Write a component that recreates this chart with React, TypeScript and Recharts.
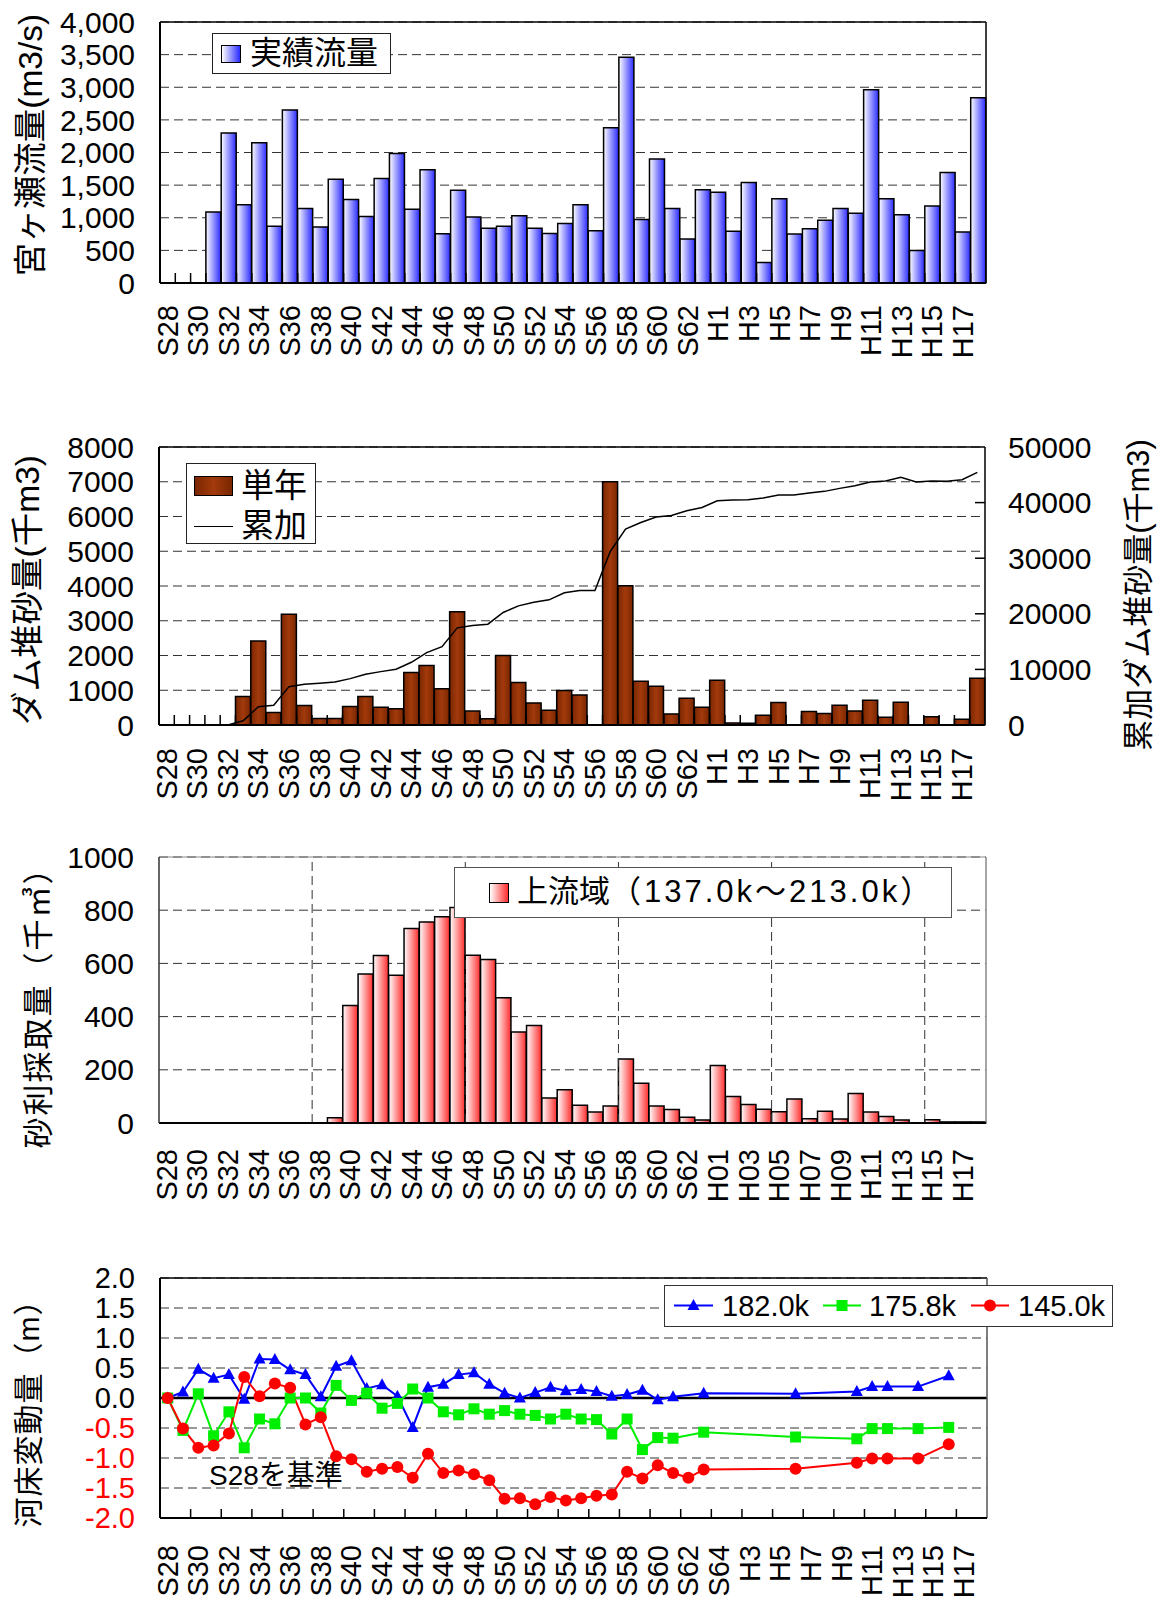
import React from 'react';
import {
  ComposedChart, BarChart, LineChart, Bar, Line, XAxis, YAxis, CartesianGrid, ReferenceLine, Legend,
} from 'recharts';

const FONT = "'Liberation Sans', Arial, 'Noto Sans CJK JP', sans-serif";

// 年度 S28 (1953) – H18 (2006)
const years = [
  'S28', 'S29', 'S30', 'S31', 'S32', 'S33', 'S34', 'S35', 'S36', 'S37', 'S38', 'S39',
  'S40', 'S41', 'S42', 'S43', 'S44', 'S45', 'S46', 'S47', 'S48', 'S49', 'S50', 'S51',
  'S52', 'S53', 'S54', 'S55', 'S56', 'S57', 'S58', 'S59', 'S60', 'S61', 'S62', 'S63',
  'H1', 'H2', 'H3', 'H4', 'H5', 'H6', 'H7', 'H8', 'H9', 'H10', 'H11', 'H12',
  'H13', 'H14', 'H15', 'H16', 'H17', 'H18',
];

// tick labels (one per two years)
const yearLabels = [
  'S28', 'S30', 'S32', 'S34', 'S36', 'S38', 'S40', 'S42', 'S44', 'S46', 'S48', 'S50',
  'S52', 'S54', 'S56', 'S58', 'S60', 'S62', 'H1', 'H3', 'H5', 'H7', 'H9', 'H11', 'H13', 'H15', 'H17',
];
const gravelLabels = [
  'S28', 'S30', 'S32', 'S34', 'S36', 'S38', 'S40', 'S42', 'S44', 'S46', 'S48', 'S50',
  'S52', 'S54', 'S56', 'S58', 'S60', 'S62', 'H01', 'H03', 'H05', 'H07', 'H09', 'H11', 'H13', 'H15', 'H17',
];
const bedLabels = [
  'S28', 'S30', 'S32', 'S34', 'S36', 'S38', 'S40', 'S42', 'S44', 'S46', 'S48', 'S50',
  'S52', 'S54', 'S56', 'S58', 'S60', 'S62', 'S64', 'H3', 'H5', 'H7', 'H9', 'H11', 'H13', 'H15', 'H17',
];

// 宮ヶ瀬 実績流量 (m3/s)
const flow = [
  null, null, null, 1090, 2300, 1200, 2150, 870, 2650, 1140, 860, 1590,
  1280, 1020, 1600, 1985, 1130, 1735, 755, 1420, 1010, 840, 870, 1030,
  840, 760, 910, 1200, 800, 2380, 3460, 975, 1900, 1140, 675, 1430,
  1390, 795, 1540, 315, 1290, 750, 830, 960, 1140, 1070, 2960, 1290,
  1045, 500, 1180, 1695, 780, 2840,
];

// ダム堆砂量 単年 (千m3)
const sandYear = [
  null, null, null, null, null, 820, 2420, 360, 3190, 560, 190, 190,
  530, 820, 510, 470, 1510, 1710, 1040, 3260, 400, 180, 2000, 1220,
  635, 425, 990, 865, null, 7000, 4010, 1260, 1115, 320, 770, 510,
  1290, 60, 50, 280, 645, null, 385, 330, 570, 405, 710, 220,
  655, null, 240, null, 165, 1345,
];

// ダム堆砂量 累加 (千m3)
const sandTotal = [
  0, 0, 0, 0, 0, 750, 3300, 3540, 6900, 7320, 7500, 7740,
  8340, 9120, 9600, 10020, 11280, 13030, 14100, 17470, 17890, 18130, 20230, 21430,
  22090, 22510, 23770, 24190, 24190, 31210, 35230, 36430, 37400, 37700, 38530, 39130,
  40340, 40460, 40520, 40820, 41360, 41360, 41720, 42020, 42560, 43040, 43700, 43880,
  44540, 43700, 43880, 43820, 44120, 45440,
];

// 砂利採取量 上流域 (千m3)
const gravel = [
  null, null, null, null, null, null, null, null, null, null, null, 20,
  442, 560, 630, 555, 731, 756, 775, 810, 631, 615, 471, 342,
  367, 94, 125, 67, 41, 64, 241, 149, 64, 51, 22, 11,
  216, 100, 70, 52, 42, 90, 16, 44, 15, 111, 41, 24,
  11, null, 12, 4, 4, 4,
];

// 河床変動量 (m), S28 基準
const bed182 = [
  0, 0.10, 0.48, 0.33, 0.39, -0.02, 0.65, 0.64, 0.47, 0.39, 0.02, 0.53,
  0.62, 0.16, 0.22, 0.03, -0.49, 0.18, 0.23, 0.39, 0.42, 0.23, 0.08, 0.00,
  0.09, 0.18, 0.12, 0.14, 0.11, 0.03, 0.06, 0.13, -0.03, 0.02, null, 0.08,
  null, null, null, null, null, 0.07, null, null, null, 0.11, 0.19, 0.19,
  null, 0.19, null, 0.37, null, null,
];
const bed1758 = [
  0, -0.54, 0.07, -0.63, -0.23, -0.83, -0.35, -0.43, 0.00, 0.00, -0.25, 0.21,
  -0.04, 0.08, -0.17, -0.09, 0.15, 0.00, -0.23, -0.28, -0.18, -0.27, -0.21, -0.27,
  -0.29, -0.35, -0.27, -0.35, -0.36, -0.60, -0.35, -0.86, -0.66, -0.67, null, -0.57,
  null, null, null, null, null, -0.65, null, null, null, -0.68, -0.51, -0.51,
  null, -0.51, null, -0.49, null, null,
];
const bed145 = [
  0, -0.51, -0.83, -0.79, -0.59, 0.35, 0.03, 0.24, 0.17, -0.44, -0.32, -0.97,
  -1.02, -1.23, -1.18, -1.15, -1.33, -0.93, -1.25, -1.21, -1.27, -1.37, -1.68, -1.67,
  -1.77, -1.65, -1.71, -1.67, -1.63, -1.61, -1.23, -1.34, -1.12, -1.25, -1.33, -1.19,
  null, null, null, null, null, -1.18, null, null, null, -1.08, -1.01, -1.01,
  null, -1.01, null, -0.77, null, null,
];

const flowTicks = [0, 500, 1000, 1500, 2000, 2500, 3000, 3500, 4000];
const sandTicks = [0, 1000, 2000, 3000, 4000, 5000, 6000, 7000, 8000];
const sandTotalTicks = [0, 10000, 20000, 30000, 40000, 50000];
const gravelTicks = [0, 200, 400, 600, 800, 1000];
const bedTicks = [-2, -1.5, -1, -0.5, 0, 0.5, 1, 1.5, 2];

const bedSeries = [
  { key: 'b182', name: '182.0k', color: '#0000ff', shape: 'triangle' },
  { key: 'b1758', name: '175.8k', color: '#00ee00', shape: 'square' },
  { key: 'b145', name: '145.0k', color: '#ff0000', shape: 'circle' },
];

const flowData = years.map((year, i) => ({ year, flow: flow[i] }));
const sandData = years.map((year, i) => ({ year, single: sandYear[i], total: sandTotal[i] }));
const gravelData = years.map((year, i) => ({ year, gravel: gravel[i] }));
const bedData = years.map((year, i) => ({ year, b182: bed182[i], b1758: bed1758[i], b145: bed145[i] }));

const W = 1158;
const GRID = '#333';
const DASH = '9 5';

function makeYearTick(labels: string[], gap: number, markEvery: number, markLen: number, band: number) {
  return function YearTick(props: any) {
    const { x, y, index } = props;
    const label = index % 2 === 0 ? labels[index / 2] : '';
    const ly = y + gap;
    return (
      <g>
        {markLen > 0 && index % markEvery === 0 ? (
          <line x1={x - band / 2} x2={x - band / 2} y1={y} y2={y - markLen} stroke="#000" strokeWidth={1.5} />
        ) : null}
        {label ? (
          <text x={x} y={ly} transform={`rotate(-90 ${x} ${ly})`} textAnchor="end"
            dominantBaseline="central" fontSize={29} fill="#000">{label}</text>
        ) : null}
      </g>
    );
  };
}

function titleAt(text: string, cx: number, cy: number, size: number, spacing = 0) {
  return function Title() {
    return (
      <text x={cx} y={cy} transform={`rotate(-90 ${cx} ${cy})`} textAnchor="middle"
        dominantBaseline="central" fontSize={size} letterSpacing={spacing} fill="#000">{text}</text>
    );
  };
}

function Marker({ shape, cx, cy, color }: { shape: string; cx: number; cy: number; color: string }) {
  if (shape === 'triangle') {
    return <polygon points={`${cx},${cy - 6.5} ${cx - 6},${cy + 4.5} ${cx + 6},${cy + 4.5}`} fill={color} />;
  }
  if (shape === 'square') {
    return <rect x={cx - 5.5} y={cy - 5.5} width={11} height={11} fill={color} />;
  }
  return <circle cx={cx} cy={cy} r={6} fill={color} />;
}

function makeDot(shape: string, color: string) {
  return function Dot(props: any) {
    const { cx, cy, value, index } = props;
    if (value == null || cx == null || cy == null) return <g key={`d${index}`} />;
    return <g key={`d${index}`}><Marker shape={shape} cx={cx} cy={cy} color={color} /></g>;
  };
}

const boxStyle: React.CSSProperties = {
  position: 'relative', background: '#fff', boxSizing: 'border-box', border: '1.5px solid #222',
};

function FlowChart() {
  const band = 826 / years.length;
  return (
    <BarChart width={W} height={380} data={flowData} barCategoryGap={0} barGap={0}
      margin={{ top: 22, right: 172, bottom: 0, left: 0 }}>
      <defs>
        <linearGradient id="blueBar" x1="0" y1="0" x2="1" y2="0">
          <stop offset="0%" stopColor="#ffffff" />
          <stop offset="100%" stopColor="#2b2bff" />
        </linearGradient>
      </defs>
      <CartesianGrid vertical={false} stroke={GRID} strokeDasharray={DASH} />
      <XAxis dataKey="year" interval={0} height={97} tickLine={false} tickSize={0} tickMargin={0}
        axisLine={{ stroke: '#000', strokeWidth: 2 }} tick={makeYearTick(yearLabels, 22, 1, 10, band)} />
      <YAxis width={160} domain={[0, 4000]} ticks={flowTicks} interval={0} tickLine={false}
        tickSize={6} tickMargin={19} axisLine={{ stroke: '#000', strokeWidth: 2 }}
        tick={{ fontSize: 30, fill: '#000' }} tickFormatter={(v: number) => v.toLocaleString('en-US')}
        label={titleAt('宮ヶ瀬流量(m3/s)', 30, 145, 33.5)} />
      <ReferenceLine y={4000} stroke="#000" strokeWidth={1.5} />
      <ReferenceLine x="H18" position="end" stroke="#000" strokeWidth={1.5} />
      <Bar dataKey="flow" fill="url(#blueBar)" stroke="#000" strokeWidth={1.5} isAnimationActive={false} />
      <Legend layout="horizontal" verticalAlign="middle" align="center"
        wrapperStyle={{ left: 212, top: 33, width: 179, height: 41 }}
        content={() => (
          <div style={{ ...boxStyle, width: 179, height: 41 }}>
            <div style={{ position: 'absolute', left: 8, top: 11, width: 20, height: 18, boxSizing: 'border-box',
              border: '1.5px solid #000', background: 'linear-gradient(to right, #ffffff, #2b2bff)' }} />
            <span style={{ position: 'absolute', left: 37, top: 0, lineHeight: '38px', fontSize: 32 }}>実績流量</span>
          </div>
        )} />
    </BarChart>
  );
}

function SandChart() {
  const band = 826 / years.length;
  return (
    <ComposedChart width={W} height={440} data={sandData} barCategoryGap={0} barGap={0}
      margin={{ top: 67, right: 0, bottom: 0, left: 0 }}>
      <defs>
        <linearGradient id="brownBar" x1="0" y1="0" x2="1" y2="0">
          <stop offset="0%" stopColor="#7a2600" />
          <stop offset="50%" stopColor="#a23a0c" />
          <stop offset="100%" stopColor="#7a2600" />
        </linearGradient>
      </defs>
      <CartesianGrid vertical={false} stroke={GRID} strokeDasharray={DASH} />
      <XAxis dataKey="year" interval={0} height={95} tickLine={false} tickSize={0} tickMargin={0}
        axisLine={{ stroke: '#000', strokeWidth: 2 }} tick={makeYearTick(yearLabels, 23, 1, 10, band)} />
      <YAxis width={159} domain={[0, 8000]} ticks={sandTicks} interval={0} tickLine={false}
        tickSize={6} tickMargin={19} axisLine={{ stroke: '#000', strokeWidth: 2 }}
        tick={{ fontSize: 30, fill: '#000' }}
        label={titleAt('ダム堆砂量(千m3)', 27, 210, 33.5)} />
      <YAxis yAxisId="r" orientation="right" width={173} domain={[0, 50000]} ticks={sandTotalTicks}
        interval={0} tickLine={false} tickSize={6} tickMargin={17}
        axisLine={{ stroke: '#000', strokeWidth: 1.5 }}
        tick={(p: any) => (
          <g>
            {p.payload.value > 0 && p.payload.value < 50000 ? (
              <line x1={p.x - 23} x2={p.x - 33} y1={p.y} y2={p.y} stroke="#000" strokeWidth={1.5} />
            ) : null}
            <text x={p.x} y={p.y} textAnchor="start" dominantBaseline="central" fontSize={30} fill="#000">
              {p.payload.value}
            </text>
          </g>
        )}
        label={titleAt('累加ダム堆砂量(千m3)', 1138, 215, 31)} />
      <ReferenceLine y={8000} stroke="#000" strokeWidth={1.5} />
      <Bar dataKey="single" fill="url(#brownBar)" stroke="#000" strokeWidth={1.5} isAnimationActive={false} />
      <Line yAxisId="r" dataKey="total" type="linear" stroke="#000" strokeWidth={1.5} dot={false}
        isAnimationActive={false} />
      <Legend layout="horizontal" verticalAlign="middle" align="center"
        wrapperStyle={{ left: 186, top: 83, width: 130, height: 81 }}
        content={() => (
          <div style={{ ...boxStyle, width: 130, height: 81 }}>
            <div style={{ position: 'absolute', left: 7, top: 12, width: 39, height: 20, boxSizing: 'border-box',
              border: '1.5px solid #000', background: 'linear-gradient(to right, #7a2600, #a23a0c, #7a2600)' }} />
            <span style={{ position: 'absolute', left: 54, top: 3, lineHeight: '38px', fontSize: 33 }}>単年</span>
            <div style={{ position: 'absolute', left: 7, top: 62, width: 39, height: 0, borderTop: '1.5px solid #000' }} />
            <span style={{ position: 'absolute', left: 54, top: 43, lineHeight: '38px', fontSize: 33 }}>累加</span>
          </div>
        )} />
    </ComposedChart>
  );
}

function GravelChart() {
  const band = 827 / years.length;
  return (
    <BarChart width={W} height={400} data={gravelData} barCategoryGap={0} barGap={0}
      margin={{ top: 37, right: 172, bottom: 0, left: 0 }}>
      <defs>
        <linearGradient id="redBar" x1="0" y1="0" x2="1" y2="0">
          <stop offset="0%" stopColor="#ffffff" />
          <stop offset="100%" stopColor="#ff2d2d" />
        </linearGradient>
      </defs>
      <CartesianGrid vertical={false} stroke={GRID} strokeDasharray={DASH} />
      <XAxis dataKey="year" interval={0} height={97} tickLine={false} tickSize={0} tickMargin={0}
        axisLine={{ stroke: '#000', strokeWidth: 2 }} tick={makeYearTick(gravelLabels, 26, 1, 0, band)} />
      <YAxis width={159} domain={[0, 1000]} ticks={gravelTicks} interval={0} tickLine={false}
        tickSize={6} tickMargin={19} axisLine={{ stroke: '#333', strokeWidth: 1.5 }}
        tick={{ fontSize: 30, fill: '#000' }}
        label={titleAt('砂利採取量（千㎥）', 38, 180, 31, 2)} />
      <ReferenceLine y={1000} stroke="#888" strokeWidth={1} />
      <ReferenceLine x="H18" position="end" stroke="#888" strokeWidth={1.5} />
      {['S38', 'S48', 'S58', 'H5', 'H15'].map((k) => (
        <ReferenceLine key={k} x={k} position="start" stroke={GRID} strokeDasharray={DASH} />
      ))}
      <Bar dataKey="gravel" fill="url(#redBar)" stroke="#000" strokeWidth={1.5} isAnimationActive={false} />
      <Legend layout="horizontal" verticalAlign="middle" align="center"
        wrapperStyle={{ left: 454, top: 47, width: 498, height: 51 }}
        content={() => (
          <div style={{ ...boxStyle, width: 498, height: 51, border: '1.5px solid #555' }}>
            <div style={{ position: 'absolute', left: 34, top: 15, width: 20, height: 20, boxSizing: 'border-box',
              border: '1.5px solid #000', background: 'linear-gradient(to right, #ffffff, #ff2d2d)' }} />
            <span style={{ position: 'absolute', left: 62, top: 2, lineHeight: '44px', fontSize: 31, whiteSpace: 'nowrap' }}>
              上流域<span style={{ letterSpacing: 3 }}>（137.0k～213.0k）</span>
            </span>
          </div>
        )} />
    </BarChart>
  );
}

function BedChart() {
  const band = 827 / years.length;
  const legendX = [
    { line: [9, 48], text: 57 },
    { line: [158, 196], text: 204 },
    { line: [306, 344], text: 353 },
  ];
  return (
    <LineChart width={W} height={377} data={bedData}
      margin={{ top: 58, right: 171, bottom: 0, left: 0 }}>
      <CartesianGrid vertical={false} stroke={GRID} strokeDasharray={DASH} />
      <XAxis dataKey="year" scale="band" interval={0} height={79} tickLine={false} tickSize={0} tickMargin={0}
        axisLine={{ stroke: '#000', strokeWidth: 2 }} tick={makeYearTick(bedLabels, 27, 2, 9, band)} />
      <YAxis width={160} domain={[-2, 2]} ticks={bedTicks} interval={0} tickLine={false}
        tickSize={6} tickMargin={19} axisLine={{ stroke: '#000', strokeWidth: 2 }}
        tick={(p: any) => (
          <text x={p.x} y={p.y} textAnchor="end" dominantBaseline="central" fontSize={29}
            fill={p.payload.value < 0 ? '#ff0000' : '#000'}>
            {Number(p.payload.value).toFixed(1)}
          </text>
        )}
        label={titleAt('河床変動量（m）', 28, 186, 30, 1)} />
      <ReferenceLine y={2} stroke="#000" strokeWidth={1.5} />
      <ReferenceLine y={0} stroke="#000" strokeWidth={2.5} />
      <ReferenceLine x="H18" position="end" stroke="#555" strokeWidth={1.5} />
      {bedSeries.map((s) => (
        <Line key={s.key} dataKey={s.key} type="linear" stroke={s.color} strokeWidth={2} connectNulls
          dot={makeDot(s.shape, s.color)} activeDot={false} isAnimationActive={false} />
      ))}
      <text x={209} y={255} dominantBaseline="central" fontSize={28} fill="#000">S28を基準</text>
      <Legend layout="horizontal" verticalAlign="middle" align="center"
        wrapperStyle={{ left: 664, top: 65, width: 449, height: 42 }}
        content={() => (
          <div style={{ ...boxStyle, width: 449, height: 42, border: '1.5px solid #333' }}>
            <svg width={446} height={39} style={{ position: 'absolute', left: 0, top: 0 }}>
              {bedSeries.map((s, i) => {
                const p = legendX[i];
                const mid = (p.line[0] + p.line[1]) / 2;
                return (
                  <g key={s.key}>
                    <line x1={p.line[0]} x2={p.line[1]} y1={19.5} y2={19.5} stroke={s.color} strokeWidth={2} />
                    <Marker shape={s.shape} cx={mid} cy={19.5} color={s.color} />
                    <text x={p.text} y={19.5} dominantBaseline="central" fontSize={29} fill="#000">{s.name}</text>
                  </g>
                );
              })}
            </svg>
          </div>
        )} />
    </LineChart>
  );
}

export default function App() {
  return (
    <div style={{ position: 'absolute', left: 0, top: 0, width: W, height: 1597, background: '#fff',
      fontFamily: FONT, color: '#000', overflow: 'hidden' }}>
      <div style={{ position: 'absolute', left: 0, top: 0 }}><FlowChart /></div>
      <div style={{ position: 'absolute', left: 0, top: 380 }}><SandChart /></div>
      <div style={{ position: 'absolute', left: 0, top: 820 }}><GravelChart /></div>
      <div style={{ position: 'absolute', left: 0, top: 1220 }}><BedChart /></div>
    </div>
  );
}
